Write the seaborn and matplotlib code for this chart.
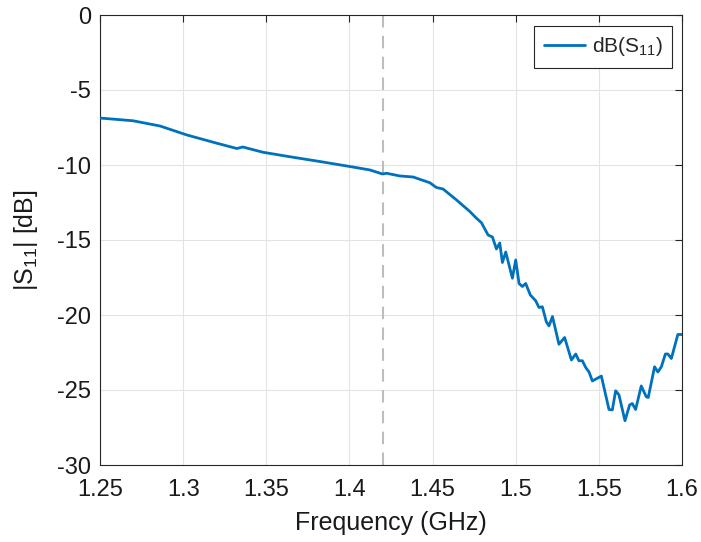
import matplotlib
matplotlib.use("Agg")
import matplotlib.pyplot as plt
import seaborn as sns
import pandas as pd

# Measured reflection coefficient of the antenna
freq_ghz = [
    1.2500, 1.2698, 1.2861, 1.3023, 1.3203, 1.3323, 1.3359, 1.3480, 1.3642,
    1.3840, 1.4002, 1.4123, 1.4199, 1.4223, 1.4303, 1.4383, 1.4483, 1.4523,
    1.4563, 1.4644, 1.4724, 1.4764, 1.4794, 1.4834, 1.4860, 1.4884, 1.4904,
    1.4920, 1.4940, 1.4980, 1.5000, 1.5020, 1.5040, 1.5060, 1.5088, 1.5120,
    1.5140, 1.5160, 1.5184, 1.5200, 1.5221, 1.5260, 1.5294, 1.5335, 1.5361,
    1.5380, 1.5401, 1.5421, 1.5441, 1.5461, 1.5515, 1.5561, 1.5581, 1.5601,
    1.5621, 1.5657, 1.5685, 1.5701, 1.5721, 1.5755, 1.5785, 1.5797, 1.5835,
    1.5855, 1.5876, 1.5900, 1.5915, 1.5936, 1.5975, 1.6000,
]
s11_db = [
    -6.87, -7.05, -7.40, -8.00, -8.55, -8.90, -8.80, -9.15, -9.45,
    -9.80, -10.10, -10.33, -10.60, -10.55, -10.73, -10.80, -11.18, -11.50,
    -11.60, -12.33, -13.10, -13.55, -13.85, -14.67, -14.80, -15.60, -15.20,
    -16.50, -15.80, -17.55, -16.33, -17.90, -18.10, -17.90, -18.67, -19.05,
    -19.50, -19.45, -20.45, -20.73, -20.10, -21.95, -21.50, -23.00, -22.60,
    -23.05, -23.05, -23.50, -23.80, -24.40, -24.07, -26.30, -26.33, -25.05,
    -25.33, -27.05, -26.00, -25.90, -26.30, -24.73, -25.45, -25.50, -23.45,
    -23.80, -23.45, -22.60, -22.60, -22.90, -21.30, -21.30,
]
marker_freq = 1.42

x_ticks = [1.25, 1.3, 1.35, 1.4, 1.45, 1.5, 1.55, 1.6]
x_tick_labels = ["1.25", "1.3", "1.35", "1.4", "1.45", "1.5", "1.55", "1.6"]
y_ticks = [-30, -25, -20, -15, -10, -5, 0]
y_tick_labels = ["-30", "-25", "-20", "-15", "-10", "-5", "0"]

df = pd.DataFrame({"freq": freq_ghz, "s11": s11_db})

sns.set_theme(style="white")
plt.rcParams["font.family"] = ["Liberation Sans", "DejaVu Sans"]
plt.rcParams["mathtext.fontset"] = "custom"
plt.rcParams["mathtext.rm"] = "Liberation Sans"

fig = plt.figure(figsize=(7.01, 5.42), dpi=100)
ax = fig.add_axes([100 / 701, 1 - 465 / 542, 582 / 701, 450 / 542])

sns.lineplot(data=df, x="freq", y="s11", ax=ax, color="#0072BD",
             linewidth=2.0, label=r"$\mathregular{dB(S_{11})}$", zorder=3)
ax.axvline(marker_freq, color="#bdbdbd", linestyle=(0, (6, 4)),
           linewidth=1.5, zorder=2)

ax.set_xlim(1.25, 1.6)
ax.set_ylim(-30, 0)
ax.set_xticks(x_ticks)
ax.set_xticklabels(x_tick_labels)
ax.set_yticks(y_ticks)
ax.set_yticklabels(y_tick_labels)

ax.grid(True, color="#e3e3e3", linewidth=0.8)
ax.set_axisbelow(True)
for sp in ax.spines.values():
    sp.set_color("#262626")
    sp.set_linewidth(0.8)
ax.tick_params(direction="in", length=5, width=0.8, color="#262626",
               labelsize=17, labelcolor="#1a1a1a", top=True, right=True)
ax.tick_params(axis="x", pad=10)
ax.tick_params(axis="y", pad=6.5)

ax.set_xlabel("Frequency (GHz)", fontsize=18, color="#1a1a1a", labelpad=7)
ax.set_ylabel(r"$\mathregular{|S_{11}|}$ [dB]", fontsize=18,
              color="#1a1a1a", labelpad=12)

leg = ax.legend(loc="upper right", fontsize=15, frameon=True, fancybox=False,
                edgecolor="#262626", framealpha=1, handlelength=2.0,
                borderpad=0.45, handletextpad=0.3, borderaxespad=0,
                bbox_to_anchor=(0.983, 0.976))
leg.get_frame().set_linewidth(0.8)

fig.savefig("out.png", dpi=100, facecolor="white")
